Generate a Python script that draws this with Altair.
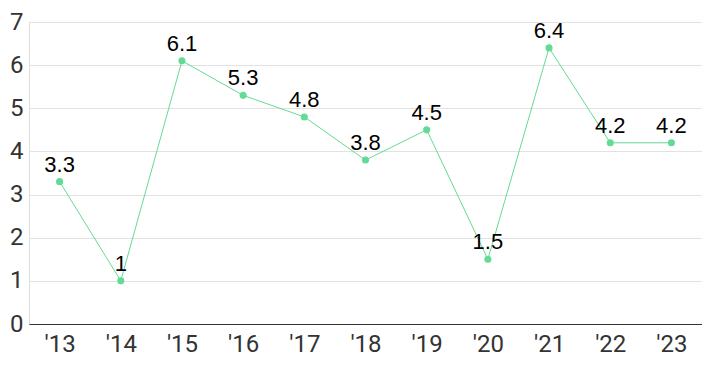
import altair as alt
import pandas as pd

years = ["'13", "'14", "'15", "'16", "'17", "'18", "'19", "'20", "'21", "'22", "'23"]
values = [3.3, 1.0, 6.1, 5.3, 4.8, 3.8, 4.5, 1.5, 6.4, 4.2, 4.2]
labels = ["3.3", "1", "6.1", "5.3", "4.8", "3.8", "4.5", "1.5", "6.4", "4.2", "4.2"]

df = pd.DataFrame({"year": years, "value": values, "label": labels})

GREEN = "#63db94"

x = alt.X("year:N", sort=years, title=None,
          scale=alt.Scale(type="point", padding=0.5),
          axis=alt.Axis(labelAngle=0, labelFont="Roboto", labelFontSize=24,
                        labelColor="#333333", labelPadding=8, ticks=False,
                        domainColor="#333333", domainWidth=1, grid=False))
y = alt.Y("value:Q", title=None,
          scale=alt.Scale(domain=[0, 7], nice=False, zero=True),
          axis=alt.Axis(values=[0, 1, 2, 3, 4, 5, 6, 7], labelFont="Roboto",
                        labelFontSize=24, labelColor="#333333", labelPadding=6,
                        ticks=False, domain=False, gridColor="#e2e2e2",
                        gridWidth=1, labelAlign="right"))

base = alt.Chart(df).encode(x=x, y=y)

line = base.mark_line(color=GREEN, strokeWidth=1)
points = base.mark_circle(color=GREEN, size=50, opacity=1)
text = base.mark_text(font="Arial, Liberation Sans", fontSize=22, color="#000000",
                      baseline="bottom", dy=-5).encode(text="label:N")

chart = (line + points + text).properties(
    width=673, height=302,
    autosize=alt.AutoSizeParams(type="none"),
    padding={"left": 21, "top": 14, "right": 0, "bottom": 34}
).configure_view(stroke=None).configure(background="white")

chart.save("out.html", embed_options={"renderer": "svg", "actions": False})
